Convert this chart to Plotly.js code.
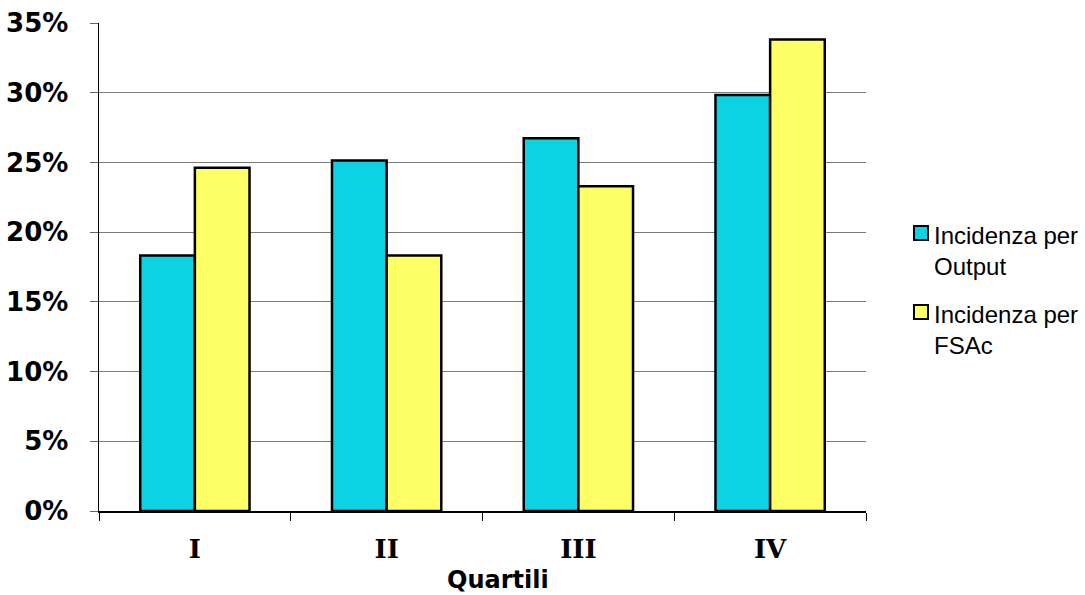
<!DOCTYPE html>
<html>
<head>
<meta charset="utf-8">
<script src="https://cdn.plot.ly/plotly-3.0.1.min.js"></script>
<style>
  html, body { margin: 0; padding: 0; background: #ffffff; }
  #chart { width: 1085px; height: 595px; }
</style>
</head>
<body>
<div id="chart"></div>
<script>
// Quartiles on the x axis
const quartili = ['I', 'II', 'III', 'IV'];

// Incidence shares per quartile (fractions of 1)
const incidenzaOutput = [0.1833, 0.2514, 0.2674, 0.2984];
const incidenzaFSAc = [0.2461, 0.1833, 0.2330, 0.3381];

// Series names
const nomeOutput = 'Incidenza per Output';
const nomeFSAc = 'Incidenza per FSAc';

// Axis ticks
const yTickValues = [0, 0.05, 0.10, 0.15, 0.20, 0.25, 0.30, 0.35];
const xTitle = 'Quartili';

const coloreOutput = '#0CD2E4';
const coloreFSAc = '#FFFF66';

const traces = [
  {
    type: 'bar', name: nomeOutput, x: quartili, y: incidenzaOutput,
    marker: { color: coloreOutput, line: { color: '#000000', width: 2.5 } },
    hoverinfo: 'x+y+name'
  },
  {
    type: 'bar', name: nomeFSAc, x: quartili, y: incidenzaFSAc,
    marker: { color: coloreFSAc, line: { color: '#000000', width: 2.5 } },
    hoverinfo: 'x+y+name'
  }
];

// Hand-built legend: boxed swatches with two-line labels
function wrapName(name) {
  const i = name.lastIndexOf(' ');
  return name.slice(0, i) + '<br>' + name.slice(i + 1);
}
const W = 1085, H = 595;
const legendItems = [
  { name: nomeOutput, color: coloreOutput, top: 226 },
  { name: nomeFSAc, color: coloreFSAc, top: 305 }
];
const shapes = [];
const annotations = [];
legendItems.forEach(it => {
  shapes.push({
    type: 'rect', xref: 'paper', yref: 'paper',
    x0: 0, x1: 0, y0: 0, y1: 0, // filled in below from pixel positions
    _px: { x0: 914, x1: 928, y0: it.top, y1: it.top + 14 },
    fillcolor: it.color, line: { color: '#000000', width: 2 }
  });
  annotations.push({
    _px: { x: 932, y: it.top - 6 },
    text: wrapName(it.name), showarrow: false,
    xanchor: 'left', yanchor: 'top', align: 'left',
    font: { family: 'Liberation Sans, Arial, sans-serif', size: 24, color: '#000000' }
  });
});

const margin = { l: 99, r: 219, t: 23, b: 84 };
const pw = W - margin.l - margin.r, ph = H - margin.t - margin.b;
const toPX = px => (px - margin.l) / pw;
const toPY = py => (H - margin.b - py) / ph;

shapes.forEach(s => {
  s.x0 = toPX(s._px.x0); s.x1 = toPX(s._px.x1);
  s.y0 = toPY(s._px.y1); s.y1 = toPY(s._px.y0);
  delete s._px;
});
annotations.forEach(a => {
  a.xref = 'paper'; a.yref = 'paper';
  a.x = toPX(a._px.x); a.y = toPY(a._px.y);
  delete a._px;
});

// Axis title, set slightly right of centre
annotations.push({
  xref: 'paper', yref: 'paper', x: toPX(498), y: toPY(580),
  xanchor: 'center', yanchor: 'middle', showarrow: false,
  text: '<b>' + xTitle + '</b>',
  font: { family: 'DejaVu Sans, Verdana, sans-serif', size: 24, color: '#000000' }
});

const layout = {
  width: W, height: H,
  margin: margin,
  paper_bgcolor: '#ffffff', plot_bgcolor: '#ffffff',
  showlegend: false,
  barmode: 'group', bargap: 0.43, bargroupgap: 0,
  xaxis: {
    type: 'category',
    showline: true, linecolor: '#000000', linewidth: 1.5,
    ticks: 'outside', tickson: 'boundaries', ticklen: 8, tickcolor: '#000000', tickwidth: 1,
    showgrid: false, zeroline: false,
    ticklabelstandoff: 14,
    tickfont: { family: 'DejaVu Serif, serif', size: 26, color: '#000000', weight: 'bold' }
  },
  yaxis: {
    range: [0, 0.35],
    tickvals: yTickValues, tickformat: '.0%',
    showline: true, linecolor: '#000000', linewidth: 1.5,
    ticks: 'outside', ticklen: 8, tickcolor: '#666666', tickwidth: 1,
    showgrid: true, gridcolor: '#7a7a7a', gridwidth: 1,
    zeroline: false,
    ticklabelstandoff: 16,
    tickfont: { family: 'DejaVu Sans, Verdana, sans-serif', size: 26, color: '#000000', weight: 'bold' }
  },
  shapes: shapes,
  annotations: annotations,
  font: { family: 'DejaVu Sans, sans-serif', color: '#000000' }
};

Plotly.newPlot('chart', traces, layout, { displayModeBar: false, staticPlot: true });
</script>
</body>
</html>
